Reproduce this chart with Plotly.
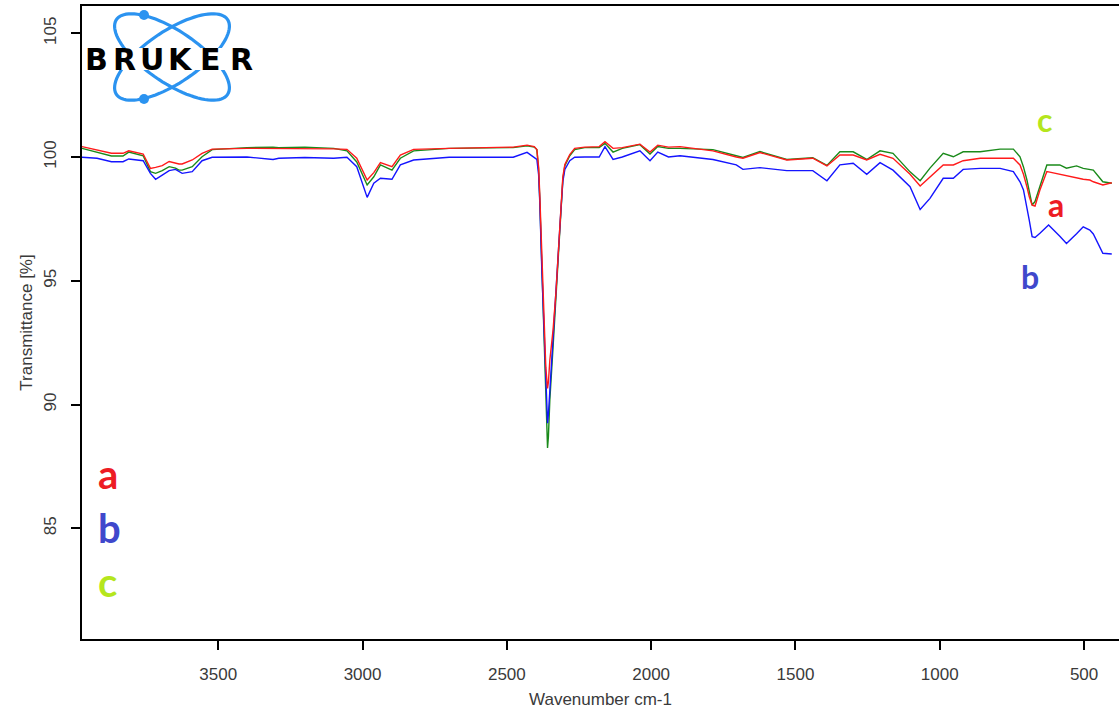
import numpy as np
import plotly.graph_objects as go

# ---------------- data ----------------
wavenumber = [3972, 3920, 3870, 3830, 3810, 3760, 3735, 3717, 3694, 3670, 3648, 3636, 3625, 3590, 3556, 3521,
              3400, 3310, 3290, 3200, 3100, 3054, 3020, 2984, 2961, 2938, 2898, 2869, 2823, 2700, 2600, 2478,
              2430, 2405, 2396, 2390, 2386, 2379, 2372, 2365, 2359, 2356, 2351, 2340, 2330, 2320, 2313, 2306,
              2299, 2282, 2265, 2230, 2180, 2160, 2132, 2100, 2039, 2004, 1977, 1940, 1900, 1786, 1705, 1682,
              1623, 1530, 1440, 1391, 1346, 1300, 1253, 1207, 1162, 1103, 1068, 1034, 988, 953, 919, 860,
              791, 745, 722, 710, 698, 690, 680, 670, 653, 629, 623, 584, 561, 526, 503, 480, 468, 435, 404]

series_a = [100.42, 100.28, 100.15, 100.15, 100.25, 100.12, 99.54, 99.58, 99.65, 99.82, 99.75, 99.72, 99.72, 99.88, 100.15, 100.32,
            100.35, 100.35, 100.35, 100.35, 100.33, 100.31, 99.95, 99.07, 99.37, 99.77, 99.61, 100.08, 100.31, 100.35, 100.38, 100.4,
            100.48, 100.42, 100.3, 99.6, 98.5, 96.0, 93.5, 91.5, 90.65, 90.9, 91.8, 93.0, 94.5, 96.5, 98.0, 99.2,
            99.7, 100.1, 100.35, 100.4, 100.42, 100.62, 100.35, 100.38, 100.52, 100.2, 100.48, 100.4, 100.42, 100.25, 100.0, 99.95,
            100.18, 99.88, 99.95, 99.64, 100.08, 100.08, 99.88, 100.11, 99.95, 99.3, 98.83, 99.2, 99.68, 99.68, 99.85, 99.95,
            99.95, 99.95, 99.68, 99.3, 98.8, 98.4, 98.05, 98.02, 98.67, 99.41, 99.4, 99.3, 99.25, 99.14, 99.1, 99.07, 99.0, 98.87, 98.96]

series_b = [99.99, 99.95, 99.81, 99.81, 99.92, 99.85, 99.34, 99.1, 99.27, 99.45, 99.5, 99.4, 99.34, 99.41, 99.85, 99.99,
            100.0, 99.9, 99.95, 99.98, 99.95, 99.99, 99.61, 98.37, 98.94, 99.14, 99.1, 99.68, 99.88, 99.99, 99.98, 99.99,
            100.19, 100.0, 99.9, 99.3, 98.2, 95.5, 93.0, 90.8, 89.25, 89.6, 90.6, 92.5, 94.3, 96.3, 97.8, 99.0,
            99.5, 99.85, 99.99, 100.0, 100.0, 100.42, 99.9, 100.0, 100.25, 99.85, 100.2, 100.0, 100.05, 99.9, 99.68, 99.5,
            99.57, 99.45, 99.45, 99.04, 99.68, 99.75, 99.3, 99.77, 99.47, 98.8, 97.88, 98.33, 99.14, 99.14, 99.5, 99.54,
            99.54, 99.41, 99.0, 98.67, 98.0, 97.45, 96.78, 96.75, 96.92, 97.2, 97.25, 96.8, 96.51, 96.9, 97.18, 97.05, 96.89, 96.11, 96.08]

series_c = [100.35, 100.2, 100.04, 100.04, 100.2, 100.05, 99.41, 99.34, 99.45, 99.61, 99.55, 99.47, 99.47, 99.61, 100.01, 100.3,
            100.38, 100.4, 100.38, 100.4, 100.35, 100.25, 99.8, 98.87, 99.2, 99.68, 99.47, 99.95, 100.25, 100.35, 100.35, 100.38,
            100.45, 100.4, 100.3, 99.5, 98.3, 95.8, 93.0, 90.5, 88.25, 88.7, 90.2, 92.3, 94.3, 96.4, 97.9, 99.1,
            99.65, 100.05, 100.3, 100.38, 100.38, 100.55, 100.2, 100.35, 100.5, 100.12, 100.42, 100.35, 100.35, 100.3, 100.05, 99.98,
            100.22, 99.9, 99.97, 99.66, 100.21, 100.21, 99.9, 100.25, 100.15, 99.4, 99.04, 99.55, 100.15, 100.01, 100.21, 100.21,
            100.32, 100.32, 100.01, 99.6, 99.07, 98.6, 98.06, 98.2, 98.8, 99.68, 99.68, 99.68, 99.55, 99.64, 99.54, 99.5, 99.47, 99.0, 98.94]

x_ticks = [3500, 3000, 2500, 2000, 1500, 1000, 500]
y_ticks = [85, 90, 95, 100, 105]
series_names = ["a", "b", "c"]

# ---------------- layout helpers ----------------
W, H = 1119, 717
ML, MR, MT, MB = 82, 0, 6, 78
PW, PH = W - ML - MR, H - MT - MB


def px(x):
    return (x - ML) / PW


def py(y):
    return (H - MB - y) / PH


def ellipse_path(cx, cy, a, b, ang_deg, n=90):
    t = np.linspace(0, 2 * np.pi, n)
    ang = np.radians(ang_deg)
    xs = cx + a * np.cos(t) * np.cos(ang) - b * np.sin(t) * np.sin(ang)
    ys = cy + a * np.cos(t) * np.sin(ang) + b * np.sin(t) * np.cos(ang)
    pts = [f"{px(x):.5f},{py(y):.5f}" for x, y in zip(xs, ys)]
    return "M " + " L ".join(pts) + " Z"


fig = go.Figure()
line_colors = {"c": "#1a8a1a", "b": "#1414ff", "a": "#ff1a1a"}
for name, vals in [("c", series_c), ("b", series_b), ("a", series_a)]:
    fig.add_trace(go.Scatter(x=wavenumber, y=vals, mode="lines", name=name,
                             line=dict(color=line_colors[name], width=1.4)))

logo_blue = "#2b93f0"
shapes = [
    dict(type="path", xref="paper", yref="paper", path=ellipse_path(172, 57, 67, 26, 34),
         line=dict(color=logo_blue, width=3.2)),
    dict(type="path", xref="paper", yref="paper", path=ellipse_path(172, 57, 67, 26, -34),
         line=dict(color=logo_blue, width=3.2)),
]
for (cx, cy) in [(144, 15), (144, 99)]:
    shapes.append(dict(type="circle", xref="paper", yref="paper",
                       x0=px(cx - 5), x1=px(cx + 5), y0=py(cy + 5), y1=py(cy - 5),
                       fillcolor=logo_blue, line=dict(color=logo_blue, width=0)))
# white band behind the wordmark
shapes.append(dict(type="rect", xref="paper", yref="paper",
                   x0=px(84), x1=px(257), y0=py(70), y1=py(48),
                   fillcolor="white", line=dict(width=0)))

annotations = []
# BRUKER wordmark, letter by letter for its wide spacing
for ch, cx in zip("BRUKER", [96, 124, 152, 180, 210, 241]):
    annotations.append(dict(xref="paper", yref="paper", x=px(cx), y=py(59), text=f"<b>{ch}</b>",
                            showarrow=False, xanchor="center", yanchor="middle",
                            font=dict(family="DejaVu Sans", size=30, color="black")))

lab_colors = {"a": "#ed1c24", "b": "#3f48cc", "c": "#b5e61d"}
left_pos = {"a": (108, 474), "b": (109, 528), "c": (107, 582)}
right_pos = {"c": (1044, 119), "a": (1056, 204), "b": (1030, 276)}
for nm in series_names:
    x0, y0 = left_pos[nm]
    annotations.append(dict(xref="paper", yref="paper", x=px(x0), y=py(y0), text=f"<b>{nm}</b>",
                            showarrow=False, xanchor="center", yanchor="middle",
                            font=dict(family="Lato", size=40, color=lab_colors[nm])))
    x1, y1 = right_pos[nm]
    annotations.append(dict(xref="paper", yref="paper", x=px(x1), y=py(y1), text=f"<b>{nm}</b>",
                            showarrow=False, xanchor="center", yanchor="middle",
                            font=dict(family="Lato", size=32, color=lab_colors[nm])))

axis_font = dict(family="Liberation Sans", size=17, color="#3a3a3a")
fig.update_layout(
    width=W, height=H,
    margin=dict(l=ML, r=MR, t=MT, b=MB, pad=0),
    paper_bgcolor="white", plot_bgcolor="white",
    showlegend=False,
    shapes=shapes,
    annotations=annotations,
    xaxis=dict(range=[3972, 379], tickmode="array", tickvals=x_ticks,
               ticktext=[str(v) for v in x_ticks],
               showline=True, linecolor="black", linewidth=1.6, mirror=True,
               ticks="outside", ticklen=9, tickwidth=1.5, tickcolor="black",
               showgrid=False, zeroline=False, tickfont=axis_font, ticklabelstandoff=10,
               title=dict(text="Wavenumber cm-1", font=axis_font, standoff=10)),
    yaxis=dict(range=[80.53, 106.1], tickmode="array", tickvals=y_ticks,
               ticktext=[str(v) for v in y_ticks], tickangle=-90,
               showline=True, linecolor="black", linewidth=1.6, mirror=False,
               ticks="outside", ticklen=9, tickwidth=1.5, tickcolor="black",
               showgrid=False, zeroline=False, tickfont=axis_font, ticklabelstandoff=8,
               title=dict(text="Transmittance [%]", font=axis_font, standoff=4)),
)

fig.write_html("out.html")
